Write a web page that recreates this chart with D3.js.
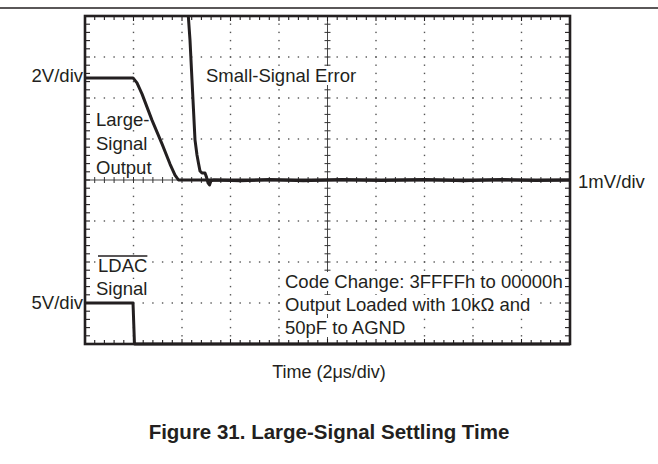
<!DOCTYPE html>
<html><head><meta charset="utf-8">
<script src="https://cdnjs.cloudflare.com/ajax/libs/d3/7.8.5/d3.min.js"></script>
<style>body{margin:0;background:#fff}svg{display:block}text{font-family:"Liberation Sans",Arial,Helvetica,sans-serif;fill:#231f20}</style>
</head><body>
<script>
// time in divisions (2 µs/div), amplitude in divisions
const largeT = [0, 0.99, 1.072, 1.175, 1.381, 1.588, 1.753, 1.856, 1.928, 3, 5, 7, 10];
const largeV = [2.49, 2.49, 2.37, 2.10, 1.46, 0.88, 0.39, 0.12, 0, 0, 0, 0, 0];
const errT = [2.13, 2.165, 2.206, 2.237, 2.268, 2.309, 2.34, 2.371, 2.412, 2.474, 2.505, 2.536, 2.567, 2.598, 2.66, 3.2, 3.8, 4.5, 5.3, 6.1, 7.0, 7.8, 8.6, 9.3, 10];
const errV = [4.0, 3.41, 2.44, 1.71, 0.98, 0.61, 0.41, 0.22, 0.17, 0.17, 0.07, -0.07, -0.12, -0.02, 0, -0.02, 0.01, -0.02, 0.01, -0.01, 0.01, -0.02, 0.01, -0.01, 0];
const ldacT = [0, 0.99, 1.02, 10];
const ldacV = [-3, -3, -4, -4];
const xDivs = d3.range(0, 11);
const yDivs = d3.range(-4, 5);

const W = 658, H = 464;
const svg = d3.select("body").append("svg").attr("width", W).attr("height", H);
const x = d3.scaleLinear().domain([0, 10]).range([85, 570]);
const y = d3.scaleLinear().domain([-4, 4]).range([344, 16]);

// top rule
svg.append("line").attr("x1", 0).attr("x2", W).attr("y1", 8).attr("y2", 8).attr("stroke", "#231f20").attr("stroke-width", 1.6);

const g = svg.append("g");
// dotted grid
const minorX = d3.range(0, 50.001, 1).map(i => i / 5);
const minorY = d3.range(0, 40.001, 1).map(i => -4 + i / 5);
xDivs.filter(d => d > 0 && d < 10 && d !== 5).forEach(d => {
  g.selectAll(null).data(minorY.filter(v => v > -4 && v < 4)).join("rect")
    .attr("x", x(d) - 0.7).attr("y", v => y(v) - 0.7).attr("width", 1.4).attr("height", 1.4).attr("fill", "#555");
});
yDivs.filter(d => d > -4 && d < 4 && d !== 0).forEach(d => {
  g.selectAll(null).data(minorX.filter(v => v > 0 && v < 10)).join("rect")
    .attr("x", v => x(v) - 0.7).attr("y", y(d) - 0.7).attr("width", 1.4).attr("height", 1.4).attr("fill", "#555");
});
// center lines with ticks
g.append("line").attr("x1", x(5)).attr("x2", x(5)).attr("y1", y(4)).attr("y2", y(-4)).attr("stroke", "#333").attr("stroke-width", 0.9);
g.append("line").attr("x1", x(0)).attr("x2", x(10)).attr("y1", y(0)).attr("y2", y(0)).attr("stroke", "#333").attr("stroke-width", 0.9);
g.selectAll(null).data(minorY).join("line").attr("x1", x(5) - 3).attr("x2", x(5) + 3)
  .attr("y1", d => y(d)).attr("y2", d => y(d)).attr("stroke", "#333").attr("stroke-width", 1);
g.selectAll(null).data(minorX).join("line").attr("y1", y(0) - 3).attr("y2", y(0) + 3)
  .attr("x1", d => x(d)).attr("x2", d => x(d)).attr("stroke", "#333").attr("stroke-width", 1);

// border ticks
const tk = svg.append("g").attr("stroke", "#231f20").attr("stroke-width", 1.1);
minorX.forEach(v => {
  const len = Number.isInteger(Math.round(v * 1000) / 1000) ? 5 : 4;
  tk.append("line").attr("x1", x(v)).attr("x2", x(v)).attr("y1", y(4)).attr("y2", y(4) + len);
  tk.append("line").attr("x1", x(v)).attr("x2", x(v)).attr("y1", y(-4)).attr("y2", y(-4) - len);
});
minorY.forEach(v => {
  tk.append("line").attr("x1", x(0)).attr("x2", x(0) + 5).attr("y1", y(v)).attr("y2", y(v));
  tk.append("line").attr("x1", x(10)).attr("x2", x(10) - 5).attr("y1", y(v)).attr("y2", y(v));
});

// text labels with white backing
function label(txt, tx, ty, opts = {}) {
  const t = svg.append("text").attr("x", tx).attr("y", ty).attr("font-size", opts.size || 18.5)
    .attr("text-anchor", opts.anchor || "start").attr("font-weight", opts.weight || "normal").text(txt);
  if (opts.bg) {
    const b = t.node().getBBox();
    svg.insert("rect", "text").attr("x", b.x - 2).attr("y", b.y + 1).attr("width", b.width + 4).attr("height", b.height - 2).attr("fill", "#fff");
  }
  return t;
}
label("Small-Signal Error", 206, 82, {bg: true});
label("Large-", 96, 126, {bg: true});
label("Signal", 96, 150, {bg: true});
label("Output", 96, 174, {bg: true});
const ld = label("LDAC", 98, 272, {bg: true});
label("Signal", 96, 295, {bg: true});
label("Code Change: 3FFFFh to 00000h", 285, 288, {bg: true});
label("Output Loaded with 10k\u03A9 and", 285, 311, {bg: true});
label("50pF to AGND", 285, 334, {bg: true});
label("2V/div", 83, 82, {anchor: "end"});
label("5V/div", 83, 309, {anchor: "end"});
label("1mV/div", 578, 188);
label("Time (2\u03BCs/div)", 329, 378, {anchor: "middle", size: 18});
label("Figure 31. Large-Signal Settling Time", 329, 439, {anchor: "middle", size: 20.5, weight: "bold"});
const lb = ld.node().getBBox();
svg.append("line").attr("x1", lb.x).attr("x2", lb.x + lb.width).attr("y1", lb.y + 1).attr("y2", lb.y + 1).attr("stroke", "#231f20").attr("stroke-width", 1.6);

// traces
const line = d3.line().x(d => x(d[0])).y(d => y(d[1]));
const tr = svg.append("g").attr("fill", "none").attr("stroke", "#231f20").attr("stroke-width", 3).attr("stroke-linejoin", "round");
tr.append("path").attr("d", line(d3.zip(largeT, largeV)));
tr.append("path").attr("d", line(d3.zip(errT, errV)));
tr.append("path").attr("d", line(d3.zip(ldacT, ldacV)));

// frame
svg.append("rect").attr("x", x(0)).attr("y", y(4)).attr("width", x(10) - x(0)).attr("height", y(-4) - y(4))
  .attr("fill", "none").attr("stroke", "#231f20").attr("stroke-width", 2.6);
</script>
</body></html>
